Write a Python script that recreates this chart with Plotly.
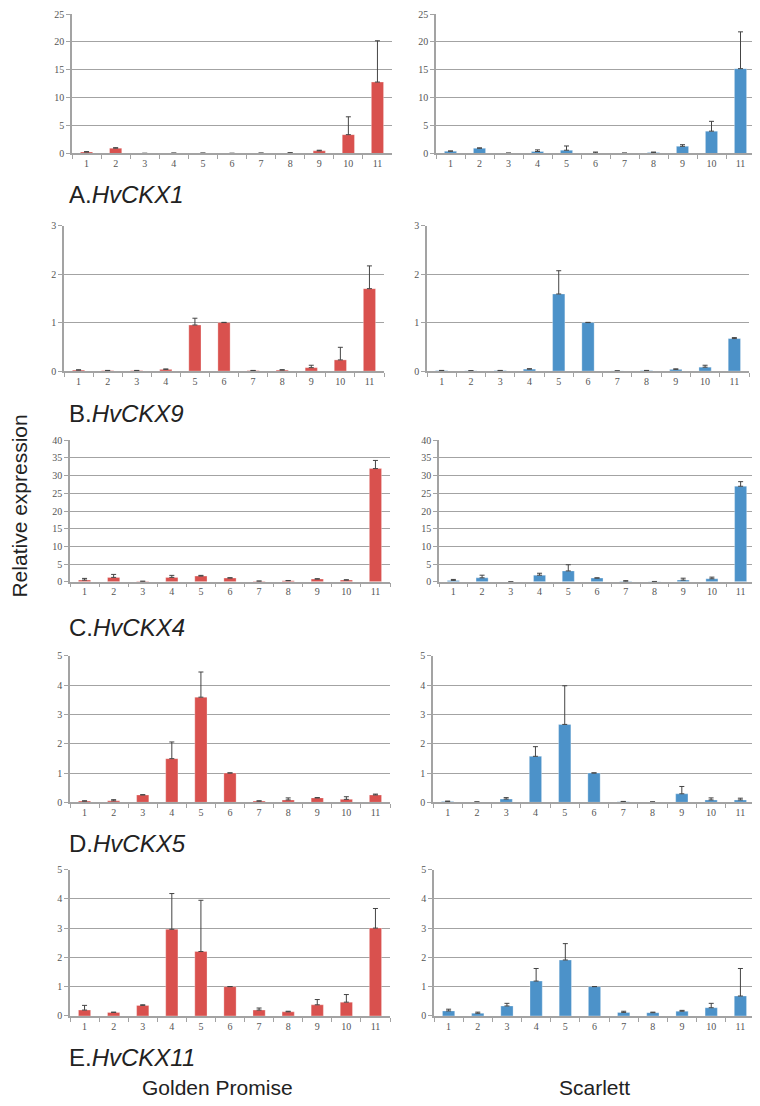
import plotly.graph_objects as go

# ---------------- data ----------------
categories = ["1", "2", "3", "4", "5", "6", "7", "8", "9", "10", "11"]

gp_ckx1 = [0.25, 0.95, 0.02, 0.05, 0.05, 0.02, 0.05, 0.10, 0.47, 3.37, 12.8]
gp_ckx1_err = [0.08, 0.08, 0.01, 0.02, 0.02, 0.01, 0.02, 0.03, 0.11, 3.20, 7.4]
sc_ckx1 = [0.40, 0.93, 0.05, 0.35, 0.58, 0.10, 0.05, 0.15, 1.28, 4.00, 15.2]
sc_ckx1_err = [0.05, 0.07, 0.02, 0.29, 0.76, 0.15, 0.02, 0.10, 0.29, 1.76, 6.6]

gp_ckx9 = [0.02, 0.01, 0.01, 0.035, 0.95, 1.00, 0.01, 0.02, 0.07, 0.23, 1.70]
gp_ckx9_err = [0.005, 0.003, 0.003, 0.008, 0.14, 0.005, 0.003, 0.008, 0.05, 0.26, 0.47]
sc_ckx9 = [0.01, 0.005, 0.01, 0.04, 1.59, 1.00, 0.003, 0.01, 0.035, 0.08, 0.67]
sc_ckx9_err = [0.003, 0.002, 0.003, 0.008, 0.48, 0.005, 0.001, 0.003, 0.01, 0.04, 0.02]

gp_ckx4 = [0.47, 1.23, 0.10, 1.23, 1.60, 1.04, 0.15, 0.28, 0.75, 0.47, 32.0]
gp_ckx4_err = [0.47, 0.84, 0.05, 0.57, 0.20, 0.09, 0.05, 0.07, 0.10, 0.08, 2.3]
sc_ckx4 = [0.37, 1.10, 0.0, 1.85, 3.05, 1.02, 0.10, 0.05, 0.46, 0.83, 27.0]
sc_ckx4_err = [0.28, 0.75, 0.0, 0.55, 1.75, 0.08, 0.20, 0.03, 0.54, 0.47, 1.3]

gp_ckx5 = [0.04, 0.05, 0.25, 1.49, 3.59, 1.00, 0.04, 0.08, 0.15, 0.10, 0.25]
gp_ckx5_err = [0.01, 0.04, 0.01, 0.57, 0.86, 0.005, 0.01, 0.07, 0.01, 0.09, 0.03]
sc_ckx5 = [0.03, 0.01, 0.11, 1.57, 2.66, 1.00, 0.02, 0.01, 0.29, 0.08, 0.08]
sc_ckx5_err = [0.01, 0.005, 0.05, 0.33, 1.32, 0.005, 0.01, 0.005, 0.25, 0.07, 0.06]

gp_ckx11 = [0.20, 0.12, 0.36, 2.96, 2.20, 1.00, 0.20, 0.14, 0.38, 0.47, 3.00]
gp_ckx11_err = [0.16, 0.01, 0.02, 1.22, 1.75, 0.005, 0.07, 0.02, 0.18, 0.26, 0.67]
sc_ckx11 = [0.17, 0.09, 0.34, 1.19, 1.91, 1.00, 0.12, 0.11, 0.16, 0.28, 0.68]
sc_ckx11_err = [0.06, 0.04, 0.09, 0.43, 0.56, 0.005, 0.04, 0.02, 0.03, 0.15, 0.94]

panel_letters = ["A", "B", "C", "D", "E"]
gene_names = ["HvCKX1", "HvCKX9", "HvCKX4", "HvCKX5", "HvCKX11"]
y_max = [25, 3, 40, 5, 5]
y_step = [5, 1, 5, 1, 1]
cultivars = ["Golden Promise", "Scarlett"]
y_title = "Relative expression"

gp_values = [gp_ckx1, gp_ckx9, gp_ckx4, gp_ckx5, gp_ckx11]
gp_errors = [gp_ckx1_err, gp_ckx9_err, gp_ckx4_err, gp_ckx5_err, gp_ckx11_err]
sc_values = [sc_ckx1, sc_ckx9, sc_ckx4, sc_ckx5, sc_ckx11]
sc_errors = [sc_ckx1_err, sc_ckx9_err, sc_ckx4_err, sc_ckx5_err, sc_ckx11_err]

# ---------------- layout geometry (page pixels) ----------------
# the page body has an 8px default margin, so the figure is drawn 8px smaller
# and every page coordinate is shifted by that offset
OFF = 8
W, H = 760 - OFF, 1106 - OFF


def px_x(p):
    return min(1.0, max(0.0, (p - OFF) / W))


def px_y(p):
    return min(1.0, max(0.0, 1 - (p - OFF) / H))


row_px = [(8, 149), (222, 369), (439, 582), (657, 805), (873, 1021)]
left_x0 = [72, 64, 70, 70, 70]
right_x0 = [436, 427, 439, 433, 434]
right_x1 = [755, 749, 755, 755, 755]
label_y = [190, 412, 628, 847, 1063]

RED = "#D9514E"
BLUE = "#4C92C9"
AXIS_GREY = "#A3A3A3"
TICK_FONT = dict(family="Liberation Serif, Times New Roman, serif", size=10, color="#555555")
LABEL_FONT = "Liberation Sans, Arial, sans-serif"

fig = go.Figure()
layout_axes = {}
n = 0
for r in range(5):
    for c in range(2):
        n += 1
        xa = "x" if n == 1 else f"x{n}"
        ya = "y" if n == 1 else f"y{n}"
        vals = gp_values[r] if c == 0 else sc_values[r]
        errs = gp_errors[r] if c == 0 else sc_errors[r]
        color = RED if c == 0 else BLUE
        fig.add_trace(go.Bar(
            x=categories, y=vals, xaxis=xa, yaxis=ya,
            marker=dict(color=color, line=dict(color="rgba(255,255,255,0.6)", width=0.5)),
            error_y=dict(type="data", array=errs, arrayminus=[0] * len(errs),
                         symmetric=False, color="#444444", thickness=1, width=2.5),
            showlegend=False,
        ))
        x0 = left_x0[r] if c == 0 else right_x0[r]
        x1 = x0 + 320 if c == 0 else right_x1[r]
        top, bot = row_px[r]
        key_x = "xaxis" if n == 1 else f"xaxis{n}"
        key_y = "yaxis" if n == 1 else f"yaxis{n}"
        layout_axes[key_x] = dict(
            domain=[px_x(x0), px_x(x1)], anchor=ya, type="category",
            showline=True, linecolor=AXIS_GREY, linewidth=1.5,
            ticks="outside", tickson="boundaries", ticklen=4, tickcolor=AXIS_GREY,
            tickfont=TICK_FONT, showgrid=False, fixedrange=True,
        )
        layout_axes[key_y] = dict(
            domain=[px_y(bot), px_y(top)], anchor=xa,
            range=[0, y_max[r]], dtick=y_step[r], tick0=0,
            showline=True, linecolor=AXIS_GREY, linewidth=1.5,
            ticks="outside", ticklen=4, tickcolor=AXIS_GREY,
            showgrid=True, gridcolor=AXIS_GREY, gridwidth=1.2,
            zeroline=False, tickfont=TICK_FONT, fixedrange=True,
        )

annotations = []
for r in range(5):
    annotations.append(dict(
        x=px_x(67), y=px_y(label_y[r]), xref="paper", yref="paper",
        xanchor="left", yanchor="middle", showarrow=False,
        text=f"{panel_letters[r]}.<i>{gene_names[r]}</i>",
        font=dict(family=LABEL_FONT, size=24, color="#222222"),
    ))
for name, cx in zip(cultivars, [217, 594]):
    annotations.append(dict(
        x=px_x(cx), y=px_y(1093), xref="paper", yref="paper",
        xanchor="center", yanchor="middle", showarrow=False, text=name,
        font=dict(family=LABEL_FONT, size=21, color="#222222"),
    ))
annotations.append(dict(
    x=px_x(20), y=px_y(506), xref="paper", yref="paper",
    xanchor="center", yanchor="middle", showarrow=False, text=y_title, textangle=-90,
    font=dict(family=LABEL_FONT, size=21, color="#222222"),
))

fig.update_layout(
    width=W, height=H, autosize=False,
    margin=dict(l=0, r=0, t=0, b=0),
    paper_bgcolor="white", plot_bgcolor="white",
    bargap=0.58, annotations=annotations,
    **layout_axes,
)

fig.write_html("out.html")
